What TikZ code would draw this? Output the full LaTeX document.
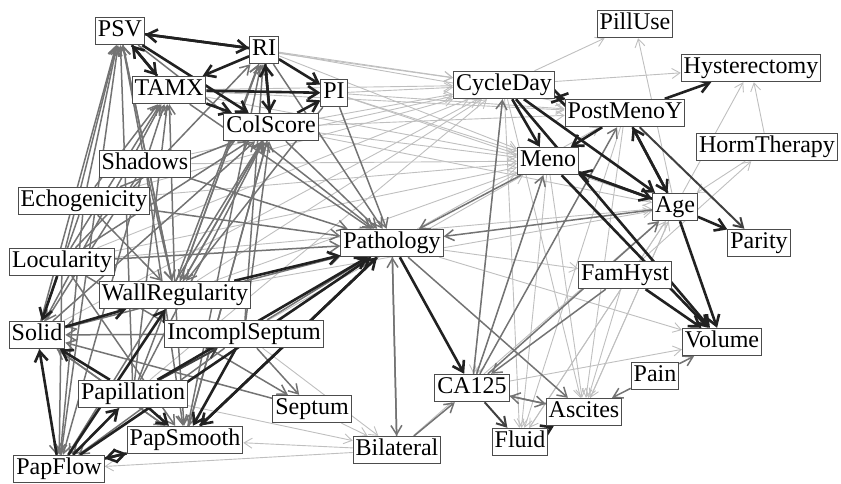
\documentclass[tikz,border=0pt]{standalone}
\usepackage{fontspec}
\setmainfont{Liberation Serif}
\usetikzlibrary{backgrounds,arrows.meta}

\begin{document}
\begin{tikzpicture}[x=1pt, y=-1pt, every node/.style={draw=black!70, fill=white, line width=0.9pt, inner xsep=2.5pt, inner ysep=2.5pt, text height=17pt, text depth=5.5pt, font=\fontsize{24}{28}\selectfont}, lt/.style={draw=black!25, line width=0.9pt, -{Straight Barb[length=8pt,width=10pt]}}, md/.style={draw=black!55, line width=1.5pt, -{Straight Barb[length=9pt,width=11pt]}}, dk/.style={draw=black!87, line width=2.6pt, -{Straight Barb[length=10pt,width=13pt]}}]
  \useasboundingbox (0,0) rectangle (841,483);
  \node (psv) at (120,31) {PSV};
  \node (ri) at (264,50) {RI};
  \node (tamx) at (169,90) {TAMX};
  \node (pi) at (334,93) {PI};
  \node (col) at (271,127) {ColScore};
  \node (shad) at (145,164) {Shadows};
  \node (echo) at (84,201) {Echogenicity};
  \node (path) at (392,243) {Pathology};
  \node (loc) at (62,262) {Locularity};
  \node (wall) at (175,295) {WallRegularity};
  \node (solid) at (37,335) {Solid};
  \node (incs) at (244,334) {IncomplSeptum};
  \node (papil) at (133,394) {Papillation};
  \node (sept) at (312,409) {Septum};
  \node (papsm) at (185,440) {PapSmooth};
  \node (papfl) at (59,469) {PapFlow};
  \node (bilat) at (397,450) {Bilateral};
  \node (cyc) at (504,85) {CycleDay};
  \node (pill) at (635,24) {PillUse};
  \node (hyst) at (751,68) {Hysterectomy};
  \node (post) at (625,113) {PostMenoY};
  \node (horm) at (767,147) {HormTherapy};
  \node (meno) at (548,161) {Meno};
  \node (age) at (675,207) {Age};
  \node (par) at (759,243) {Parity};
  \node (fam) at (625,275) {FamHyst};
  \node (vol) at (722,342) {Volume};
  \node (pain) at (655,376) {Pain};
  \node (ca) at (472,388) {CA125};
  \node (asc) at (584,412) {Ascites};
  \node (fluid) at (520,442) {Fluid};
  \begin{scope}[on background layer]
    \foreach \a/\b in {psv/cyc, ri/cyc, tamx/cyc, pi/cyc, col/cyc, echo/cyc, loc/cyc, shad/cyc, wall/cyc, papil/cyc, ri/meno, pi/meno, col/meno, tamx/meno, loc/meno, wall/meno, echo/meno, shad/meno, pi/post, ri/post, col/post, tamx/post, cyc/pill, cyc/hyst, age/pill, horm/hyst, horm/age, age/hyst, meno/asc, cyc/asc, post/asc, age/asc, meno/fluid, cyc/fluid, post/fluid, age/fluid, cyc/ca, meno/ca, fluid/age, asc/age, bilat/age, bilat/papsm, bilat/papfl, sept/bilat, papil/bilat, path/vol, path/fam, fam/asc, ca/vol, wall/age, loc/age, incs/bilat, pi/age, col/age, fam/horm, incs/meno, solid/cyc, path/post}
      \draw[lt] (\a) -- (\b);
    \foreach \a/\b in {echo/psv, loc/psv, solid/psv, papfl/psv, shad/psv, wall/psv, papil/psv, shad/tamx, echo/tamx, loc/tamx, wall/tamx, solid/tamx, papil/tamx, loc/col, wall/col, incs/col, papil/col, papsm/col, solid/col, papfl/col, echo/col, wall/ri, loc/ri, papil/ri, incs/ri, papsm/ri, col/path, tamx/path, pi/path, ri/path, psv/path, loc/path, echo/path, solid/path, shad/path, incs/path, col/wall, pi/wall, psv/wall, shad/wall, echo/wall, ri/wall, echo/solid, shad/solid, incs/solid, sept/solid, papsm/solid, wall/solid, solid/papfl, loc/papfl, echo/papfl, shad/papfl, wall/papfl, incs/papfl, wall/papsm, loc/papsm, solid/papsm, shad/papsm, col/papsm, loc/sept, incs/sept, ca/cyc, ca/meno, ca/post, ca/age, fam/ca, bilat/ca, path/asc, bilat/path, path/bilat, age/path, meno/path, pain/vol, pain/asc, ca/asc, asc/ca, papil/papfl}
      \draw[md] (\a) -- (\b);
    \foreach \a/\b in {post/par, ca/fluid, papil/incs}
      \draw[md, draw=black!75, line width=2pt] (\a) -- (\b);
    \foreach \a/\b in {psv/ri, ri/psv, ri/tamx, psv/tamx, tamx/psv, tamx/col, ri/pi, ri/col, col/ri, tamx/pi, col/pi, psv/col, cyc/post, post/cyc, cyc/meno, post/meno, meno/age, age/meno, cyc/age, post/age, age/post, age/par, post/hyst, age/vol, meno/vol, fam/vol, cyc/vol, path/ca, solid/wall, papfl/papsm, papsm/papfl, papfl/papil, papfl/wall, papfl/path, papsm/path, papil/path, wall/path, path/papsm, papil/papsm, papil/solid, loc/solid, incs/papsm, papfl/solid, fluid/asc}
      \draw[dk] (\a) -- (\b);
  \end{scope}
\end{tikzpicture}
\end{document}
